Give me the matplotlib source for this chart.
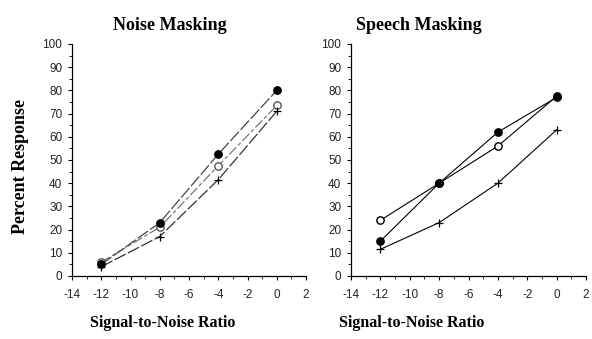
import matplotlib
matplotlib.use("Agg")
import matplotlib.pyplot as plt
from matplotlib.ticker import MultipleLocator

plt.rcParams["axes.unicode_minus"] = False

snr = [-12, -8, -4, 0]

noise_filled = [5, 23, 52.5, 80]
noise_open = [6, 21, 47.5, 73.5]
noise_cross = [4, 17, 41.5, 71]

speech_filled = [15, 40, 62, 77]
speech_open = [24, 40, 56, 77.5]
speech_cross = [11.5, 23, 40, 63]

titles = ["Noise Masking", "Speech Masking"]
xlabel = "Signal-to-Noise Ratio"
ylabel = "Percent Response"

serif = ["Liberation Serif", "DejaVu Serif"]
narrow = ["Liberation Sans Narrow", "Liberation Sans", "DejaVu Sans"]

W, H = 592, 339
fig = plt.figure(figsize=(W / 100, H / 100), dpi=100)

axL = fig.add_axes([72 / W, 63 / H, 234 / W, 232 / H])
axR = fig.add_axes([351 / W, 63 / H, 235 / W, 232 / H])

ms = 5.3
# Left panel (noise masking) - broken gray/black lines
axL.plot(snr, noise_open, color="#777777", lw=0.9, ls=(0, (8, 2, 3, 2)),
         marker="o", ms=ms, mfc="white", mec="#555555")
axL.plot(snr, noise_cross, color="#333333", lw=0.9, ls=(0, (10, 2)),
         marker="+", ms=ms, mec="black", mew=0.9)
axL.plot(snr, noise_filled, color="#444444", lw=0.9, ls=(0, (10, 2)),
         marker="o", ms=ms, mfc="black", mec="black")

# Right panel (speech masking)
axR.plot(snr, speech_open, color="black", lw=0.8,
         marker="o", ms=ms, mfc="white", mec="black")
axR.plot(snr, speech_cross, color="black", lw=0.8,
         marker="+", ms=ms, mec="black", mew=0.9)
axR.plot(snr, speech_filled, color="black", lw=0.8,
         marker="o", ms=ms, mfc="black", mec="black")

for ax in (axL, axR):
    ax.set_xlim(-14, 2)
    ax.set_ylim(0, 100)
    ax.xaxis.set_major_locator(MultipleLocator(2))
    ax.xaxis.set_minor_locator(MultipleLocator(1))
    ax.yaxis.set_major_locator(MultipleLocator(10))
    ax.yaxis.set_minor_locator(MultipleLocator(5))
    ax.spines["top"].set_visible(False)
    ax.spines["right"].set_visible(False)
    for s in ("left", "bottom"):
        ax.spines[s].set_linewidth(0.9)
    ax.tick_params(which="major", direction="out", length=3, width=0.8)
    ax.tick_params(which="minor", direction="out", length=2, width=0.6)
    ax.tick_params(axis="x", which="major", pad=6)
    ax.tick_params(axis="y", which="major", pad=4)
    for lab in ax.get_xticklabels() + ax.get_yticklabels():
        lab.set_fontfamily(narrow)
        lab.set_fontsize(8.5)
        lab.set_color("#222222")

fig.text(170 / W, 1 - 25 / H, titles[0], ha="center", va="center",
         fontfamily=serif, fontweight="bold", fontsize=13)
fig.text(419 / W, 1 - 25 / H, titles[1], ha="center", va="center",
         fontfamily=serif, fontweight="bold", fontsize=13)
fig.text(163 / W, 1 - 323 / H, xlabel, ha="center", va="center",
         fontfamily=serif, fontweight="bold", fontsize=11.5)
fig.text(412 / W, 1 - 323 / H, xlabel, ha="center", va="center",
         fontfamily=serif, fontweight="bold", fontsize=11.5)
fig.text(21 / W, 1 - 167 / H, ylabel, ha="center", va="center", rotation=90,
         fontfamily=serif, fontweight="bold", fontsize=13)

fig.savefig("out.png", dpi=100)
